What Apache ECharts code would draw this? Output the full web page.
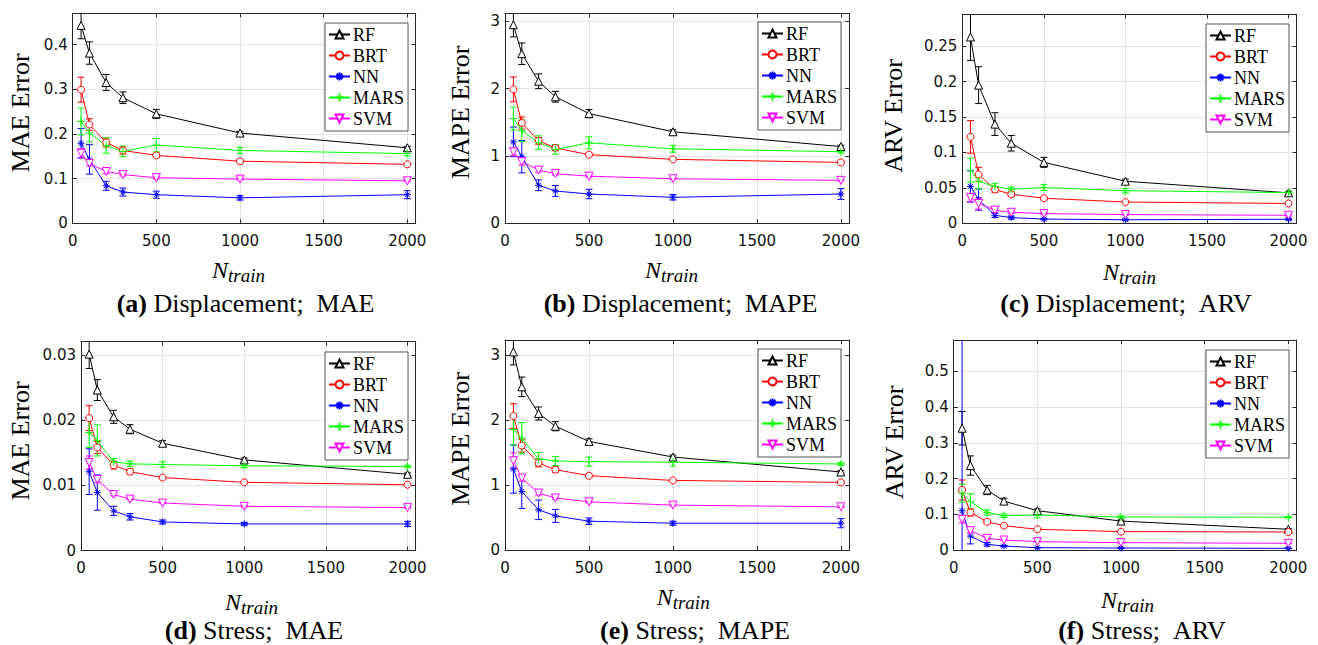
<!DOCTYPE html>
<html>
<head>
<meta charset="utf-8">
<script src="https://cdn.jsdelivr.net/npm/echarts@6/dist/echarts.min.js"></script>
<style>
html,body{margin:0;padding:0;background:#ffffff;}
#chart{width:1318px;height:645px;}
</style>
</head>
<body>
<div id="chart"></div>
<script>
// ---------------- DATA ----------------
const N_TRAIN = [50, 100, 200, 300, 500, 1000, 2000];
const MODELS = ['RF', 'BRT', 'NN', 'MARS', 'SVM'];
const X_TICKS = [0, 500, 1000, 1500, 2000];

// rows follow MODELS order: RF, BRT, NN, MARS, SVM
// (a) Displacement; MAE
const dispMAE = [
  [0.443, 0.381, 0.315, 0.281, 0.245, 0.202, 0.169],
  [0.299, 0.221, 0.181, 0.163, 0.152, 0.139, 0.132],
  [0.179, 0.143, 0.084, 0.070, 0.064, 0.057, 0.064],
  [0.228, 0.202, 0.174, 0.161, 0.175, 0.163, 0.156],
  [0.157, 0.134, 0.116, 0.109, 0.102, 0.099, 0.095]
];
const dispMAE_err = [
  [0.030, 0.025, 0.018, 0.013, 0.010, 0.004, 0.003],
  [0.028, 0.013, 0.010, 0.008, 0.005, 0.003, 0.002],
  [0.033, 0.033, 0.010, 0.009, 0.008, 0.005, 0.009],
  [0.030, 0.020, 0.017, 0.012, 0.015, 0.007, 0.005],
  [0.010, 0.006, 0.005, 0.003, 0.003, 0.002, 0.002]
];
// (b) Displacement; MAPE
const dispMAPE = [
  [2.95, 2.52, 2.11, 1.88, 1.63, 1.36, 1.14],
  [1.99, 1.49, 1.225, 1.12, 1.02, 0.95, 0.905],
  [1.21, 0.99, 0.565, 0.48, 0.435, 0.386, 0.435],
  [1.557, 1.374, 1.20, 1.097, 1.196, 1.107, 1.063],
  [1.063, 0.915, 0.79, 0.737, 0.70, 0.662, 0.638]
];
const dispMAPE_err = [
  [0.18, 0.16, 0.11, 0.08, 0.06, 0.03, 0.02],
  [0.185, 0.09, 0.05, 0.04, 0.02, 0.015, 0.01],
  [0.22, 0.24, 0.08, 0.08, 0.07, 0.04, 0.08],
  [0.17, 0.16, 0.10, 0.07, 0.09, 0.05, 0.02],
  [0.06, 0.05, 0.03, 0.02, 0.015, 0.01, 0.01]
];
// (c) Displacement; ARV
const dispARV = [
  [0.263, 0.195, 0.140, 0.113, 0.086, 0.0594, 0.043],
  [0.122, 0.069, 0.0476, 0.041, 0.0354, 0.030, 0.028],
  [0.052, 0.0335, 0.0113, 0.008, 0.006, 0.005, 0.0057],
  [0.075, 0.0594, 0.052, 0.048, 0.0505, 0.046, 0.0434],
  [0.0363, 0.028, 0.0184, 0.0156, 0.0137, 0.0123, 0.0113]
];
const dispARV_err = [
  [0.033, 0.026, 0.016, 0.011, 0.007, 0.003, 0.002],
  [0.023, 0.010, 0.004, 0.003, 0.002, 0.001, 0.001],
  [0.022, 0.015, 0.003, 0.002, 0.001, 0.001, 0.001],
  [0.017, 0.011, 0.004, 0.003, 0.004, 0.003, 0.002],
  [0.006, 0.008, 0.003, 0.002, 0.001, 0.001, 0.001]
];
// (d) Stress; MAE
const stressMAE = [
  [0.0301, 0.0246, 0.0205, 0.0186, 0.01645, 0.0139, 0.0117],
  [0.0203, 0.0158, 0.0131, 0.0121, 0.0112, 0.01047, 0.0101],
  [0.0121, 0.0089, 0.0061, 0.0052, 0.0044, 0.0041, 0.0041],
  [0.0181, 0.0169, 0.0136, 0.0133, 0.0132, 0.0130, 0.0129],
  [0.0135, 0.0109, 0.0086, 0.0079, 0.0073, 0.0068, 0.0066]
];
const stressMAE_err = [
  [0.0022, 0.0016, 0.0010, 0.0007, 0.0004, 0.0003, 0.0002],
  [0.0019, 0.0009, 0.0006, 0.0004, 0.0002, 0.0001, 0.0001],
  [0.0035, 0.0027, 0.0007, 0.0005, 0.0003, 0.0002, 0.0004],
  [0.0023, 0.0024, 0.0005, 0.0004, 0.0004, 0.0003, 0.0002],
  [0.0010, 0.0005, 0.0002, 0.0001, 0.0001, 0.0001, 0.0001]
];
// (e) Stress; MAPE
const stressMAPE = [
  [3.047, 2.51, 2.10, 1.904, 1.67, 1.43, 1.20],
  [2.06, 1.606, 1.338, 1.235, 1.143, 1.07, 1.04],
  [1.245, 0.90, 0.618, 0.525, 0.443, 0.412, 0.412],
  [1.853, 1.72, 1.40, 1.369, 1.359, 1.35, 1.323],
  [1.374, 1.107, 0.875, 0.80, 0.741, 0.69, 0.664]
];
const stressMAPE_err = [
  [0.20, 0.15, 0.10, 0.07, 0.04, 0.03, 0.02],
  [0.19, 0.10, 0.06, 0.04, 0.02, 0.015, 0.01],
  [0.37, 0.26, 0.15, 0.10, 0.05, 0.03, 0.07],
  [0.24, 0.24, 0.10, 0.07, 0.07, 0.06, 0.02],
  [0.12, 0.05, 0.03, 0.02, 0.015, 0.01, 0.01]
];
// (f) Stress; ARV
const stressARV = [
  [0.341, 0.2365, 0.168, 0.137, 0.110, 0.081, 0.058],
  [0.168, 0.105, 0.079, 0.068, 0.058, 0.0514, 0.0505],
  [0.110, 0.039, 0.016, 0.011, 0.0065, 0.0056, 0.0047],
  [0.159, 0.1355, 0.1047, 0.096, 0.098, 0.0925, 0.0916],
  [0.086, 0.054, 0.0327, 0.028, 0.0234, 0.0206, 0.0187]
];
const stressARV_err = [
  [0.047, 0.027, 0.013, 0.008, 0.005, 0.003, 0.002],
  [0.028, 0.010, 0.005, 0.003, 0.002, 0.001, 0.001],
  [0.600, 0.022, 0.005, 0.002, 0.001, 0.001, 0.001],
  [0.025, 0.022, 0.007, 0.005, 0.008, 0.003, 0.002],
  [0.010, 0.006, 0.004, 0.002, 0.001, 0.001, 0.001]
];

const Y_LABELS = ['MAE Error', 'MAPE Error', 'ARV Error', 'MAE Error', 'MAPE Error', 'ARV Error'];
const CAPTION_TAGS = ['(a)', '(b)', '(c)', '(d)', '(e)', '(f)'];
const CAPTION_TEXTS = ['Displacement;\u2002MAE', 'Displacement;\u2002MAPE', 'Displacement;\u2002ARV',
                       'Stress;\u2002MAE', 'Stress;\u2002MAPE', 'Stress;\u2002ARV'];
const X_NAME = 'N';
const X_NAME_SUB = 'train';

// ---------------- LAYOUT / STYLE ----------------
const PANEL_DATA = [
  [dispMAE, dispMAE_err], [dispMAPE, dispMAPE_err], [dispARV, dispARV_err],
  [stressMAE, stressMAE_err], [stressMAPE, stressMAPE_err], [stressARV, stressARV_err]
];
const LAYOUT = [
  {grid:[72.7, 13.3, 343.0, 210.0], yMax:0.47,  yStep:0.1,  legend:[325, 23],  ylab:[20.5, 113],  xlab:[212, 278],  cap:[245.5, 303]},
  {grid:[505.0, 13.3, 344.3, 210.0], yMax:3.12,  yStep:1,    legend:[758, 22],  ylab:[460.5, 112.5], xlab:[645, 278], cap:[680.5, 303]},
  {grid:[962.3, 14.3, 334.4, 209.0], yMax:0.295, yStep:0.05, legend:[1206, 24], ylab:[893.3, 116], xlab:[1103, 280], cap:[1126, 303]},
  {grid:[81.0, 341.7, 334.7, 209.0], yMax:0.032, yStep:0.01, legend:[325, 352], ylab:[20.5, 441],  xlab:[225, 610],  cap:[254, 630]},
  {grid:[505.0, 340.0, 344.3, 210.0], yMax:3.23, yStep:1,    legend:[758, 349], ylab:[460.5, 439], xlab:[656.7, 605], cap:[695, 630]},
  {grid:[953.7, 340.0, 343.0, 210.0], yMax:0.588, yStep:0.1, legend:[1206, 350], ylab:[894, 442.5], xlab:[1101, 608], cap:[1142, 630]}
];
const X_MAX = 2050, X_STEP = 500;
const COLORS = ['#000000', '#ff0000', '#0000ff', '#00ff00', '#ff00ff'];
const MARKERS = [
  {symbol:'triangle', size:8, open:true},
  {symbol:'circle', size:7, open:true},
  {symbol:'path://M5,0L5,10M0,5L10,5M1.5,1.5L8.5,8.5M8.5,1.5L1.5,8.5', size:7, open:false},
  {symbol:'path://M5,0L5,10M0,5L10,5', size:8, open:false},
  {symbol:'path://M0,0L10,0L5,9Z', size:8, open:true}
];
const AXIS_COLOR = '#262626';
const GRID_COLOR = '#e2e2e2';
const TICK_FONT = '"DejaVu Sans", sans-serif';
const SERIF = '"Liberation Serif", "Times New Roman", serif';

function tickFmt(step) {
  return function (v) {
    const k = v / step;
    if (Math.abs(k - Math.round(k)) > 1e-6) return '';
    return String(+(+v).toFixed(6));
  };
}

const grids = [], xAxes = [], yAxes = [], series = [], legends = [], graphics = [];

LAYOUT.forEach(function (L, p) {
  grids.push({left:L.grid[0], top:L.grid[1], width:L.grid[2], height:L.grid[3], containLabel:false, show:false});
  const tick = {show:true, inside:true, length:4, lineStyle:{color:AXIS_COLOR, width:1}};
  const line = {show:true, onZero:false, lineStyle:{color:AXIS_COLOR, width:1}};
  const split = {show:true, showMinLine:false, showMaxLine:false, lineStyle:{color:GRID_COLOR, width:1}};
  xAxes.push({type:'value', gridIndex:p, position:'bottom', min:0, max:X_MAX, interval:X_STEP,
    axisLine:line, axisTick:tick, splitLine:split,
    axisLabel:{show:true, margin:10, fontFamily:TICK_FONT, fontSize:15, color:'#111', formatter:tickFmt(X_STEP), showMaxLabel:false}});
  xAxes.push({type:'value', gridIndex:p, position:'top', min:0, max:X_MAX, interval:X_STEP,
    axisLine:line, axisTick:tick, splitLine:{show:false}, axisLabel:{show:false}});
  yAxes.push({type:'value', gridIndex:p, position:'left', min:0, max:L.yMax, interval:L.yStep,
    axisLine:line, axisTick:tick, splitLine:split,
    axisLabel:{show:true, margin:5, fontFamily:TICK_FONT, fontSize:15, color:'#111', formatter:tickFmt(L.yStep), showMaxLabel:false}});
  yAxes.push({type:'value', gridIndex:p, position:'right', min:0, max:L.yMax, interval:L.yStep,
    axisLine:line, axisTick:tick, splitLine:{show:false}, axisLabel:{show:false}});

  const means = PANEL_DATA[p][0], errs = PANEL_DATA[p][1];
  MODELS.forEach(function (name, m) {
    const color = COLORS[m];
    const mk = MARKERS[m];
    series.push({
      type:'custom', name:name + ' error', xAxisIndex:2 * p, yAxisIndex:2 * p, clip:true, silent:true,
      encode:{x:0, y:[1, 2]},
      data:N_TRAIN.map(function (x, i) { return [x, means[m][i] - errs[m][i], means[m][i] + errs[m][i]]; }),
      renderItem:function (params, api) {
        const x = api.value(0);
        const lo = api.coord([x, api.value(1)]);
        const hi = api.coord([x, api.value(2)]);
        const w = 3.5;
        const st = {stroke:color, lineWidth:1};
        return {type:'group', children:[
          {type:'line', shape:{x1:lo[0], y1:lo[1], x2:hi[0], y2:hi[1]}, style:st},
          {type:'line', shape:{x1:lo[0] - w, y1:lo[1], x2:lo[0] + w, y2:lo[1]}, style:st},
          {type:'line', shape:{x1:hi[0] - w, y1:hi[1], x2:hi[0] + w, y2:hi[1]}, style:st}
        ]};
      }
    });
    series.push({
      type:'line', name:name, xAxisIndex:2 * p, yAxisIndex:2 * p, silent:true,
      data:N_TRAIN.map(function (x, i) { return [x, means[m][i]]; }),
      symbol:mk.symbol, symbolSize:mk.size, showAllSymbol:true,
      lineStyle:{color:color, width:1},
      itemStyle:{color:mk.open ? '#ffffff' : color, borderColor:color, borderWidth:1},
      emphasis:{disabled:true}
    });
  });

  legends.push({
    orient:'vertical', left:L.legend[0], top:L.legend[1], data:MODELS.slice(), selectedMode:false,
    itemWidth:21, itemHeight:10, itemGap:0, padding:[1, 4, 2, 3],
    backgroundColor:'#ffffff', borderColor:'#555555', borderWidth:1, borderRadius:0,
    textStyle:{fontFamily:SERIF, fontSize:18, fontWeight:'normal', color:'#000', lineHeight:21, padding:[0, 0, 0, -2],
      rich:{}}
  });

  graphics.push({type:'text', x:L.ylab[0], y:L.ylab[1], rotation:Math.PI / 2, silent:true,
    style:{text:Y_LABELS[p], fontFamily:SERIF, fontSize:26, fill:'#000',
      align:'center', verticalAlign:'middle', textAlign:'center', textVerticalAlign:'middle'}});
  graphics.push({type:'text', x:L.xlab[0], y:L.xlab[1] - 8.1, silent:true,
    style:{text:X_NAME, fontFamily:SERIF, fontStyle:'italic', fontSize:24, fill:'#000',
      align:'left', verticalAlign:'middle', textAlign:'left', textVerticalAlign:'middle'}});
  graphics.push({type:'text', x:L.xlab[0] + 16, y:L.xlab[1] + 4 - 6.4, silent:true,
    style:{text:X_NAME_SUB, fontFamily:SERIF, fontStyle:'italic', fontSize:19, fill:'#000',
      align:'left', verticalAlign:'middle', textAlign:'left', textVerticalAlign:'middle'}});
  graphics.push({type:'text', x:L.cap[0], y:L.cap[1], silent:true,
    style:{text:'{b|' + CAPTION_TAGS[p] + '} ' + CAPTION_TEXTS[p], fontFamily:SERIF, fontSize:26, fill:'#000',
      align:'center', verticalAlign:'middle', textAlign:'center', textVerticalAlign:'middle',
      rich:{b:{fontFamily:SERIF, fontSize:26, fontWeight:'bold', fill:'#000'}}}});
});

const chart = echarts.init(document.getElementById('chart'), null, {renderer:'svg', width:1318, height:645});
chart.setOption({
  animation:false,
  backgroundColor:'#ffffff',
  grid:grids, xAxis:xAxes, yAxis:yAxes, series:series, legend:legends,
  graphic:{elements:graphics}
});
</script>
</body>
</html>
